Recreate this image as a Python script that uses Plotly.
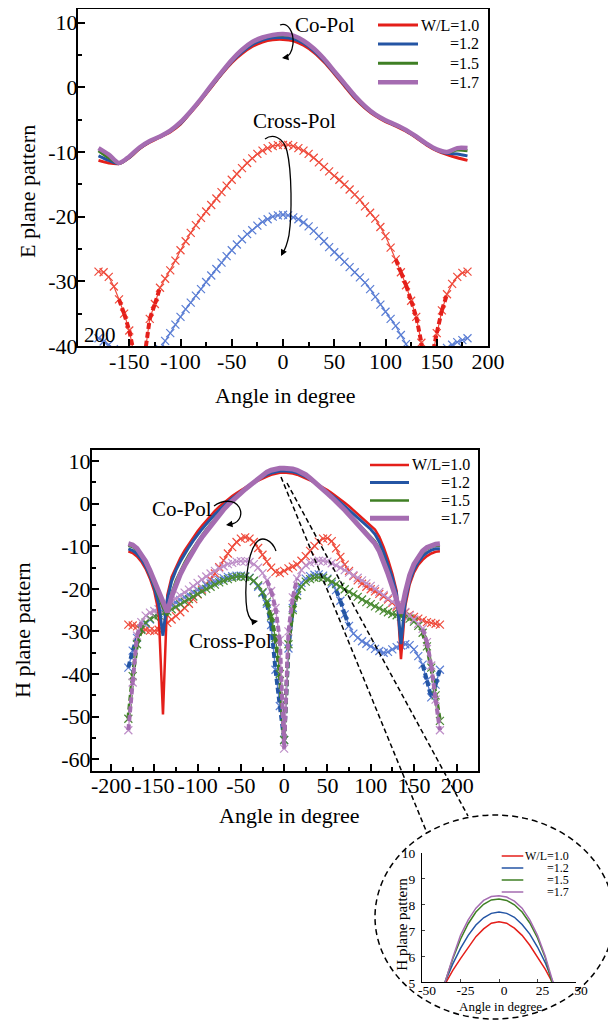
import plotly.graph_objects as go

# The page body has an 8px default margin, so the figure is drawn 8px in from
# the top-left corner of the 616x1021 window.
OFF = 8
FIG_W, FIG_H = 616 - OFF, 1021 - OFF
FONT = "Liberation Serif"

# ---------------- data ----------------
ANG10 = list(range(-180, 181, 10))
ANG5 = list(range(-180, 181, 5))
LABELS = ["W/L=1.0", "=1.2", "=1.5", "=1.7"]

# E plane co-pol (10 deg step)
E_CO_10 = [-11.3, -11.7, -11.8, -10.9, -9.5, -8.5, -7.7, -6.9, -5.7,
           -3.9, -2.0, 0.0, 2.0, 3.8, 5.2, 6.3, 7.0, 7.35, 7.4,
           7.2, 6.5, 5.4, 3.9, 2.1, 0.2, -1.7, -3.2, -4.4,
           -5.3, -6.0, -6.8, -7.8, -8.9, -9.8, -10.4, -10.9, -11.3]
E_CO_12 = [-10.6, -11.3, -11.8, -10.85, -9.45, -8.4, -7.65, -6.8, -5.6,
           -3.8, -1.9, 0.1, 2.1, 3.95, 5.45, 6.6, 7.3, 7.65, 7.7,
           7.5, 6.8, 5.65, 4.1, 2.25, 0.35, -1.55, -3.1, -4.3,
           -5.2, -5.9, -6.7, -7.7, -8.8, -9.7, -10.2, -10.3, -10.6]
E_CO_15 = [-9.8, -10.9, -11.75, -10.8, -9.4, -8.35, -7.6, -6.75, -5.5,
           -3.75, -1.85, 0.2, 2.2, 4.1, 5.7, 6.9, 7.6, 8.0, 8.1,
           7.9, 7.1, 5.9, 4.3, 2.4, 0.5, -1.4, -3.0, -4.25,
           -5.15, -5.85, -6.65, -7.65, -8.75, -9.65, -10.1, -9.7, -9.8]
E_CO_17 = [-9.4, -10.4, -11.7, -10.7, -9.3, -8.3, -7.6, -6.7, -5.4,
           -3.7, -1.8, 0.3, 2.3, 4.2, 5.8, 7.0, 7.7, 8.1, 8.25,
           8.0, 7.2, 6.0, 4.4, 2.5, 0.6, -1.3, -2.9, -4.2,
           -5.1, -5.8, -6.6, -7.6, -8.7, -9.6, -10.0, -9.4, -9.4]

# E plane cross-pol (5 deg step)
E_X_10 = [-28.5, -28.6, -29.3, -30.8, -32.8, -35.0, -37.6, -41.5, -50.0, -41.5,
          -35.8, -33.5, -31.0, -29.6, -28.3, -26.8, -25.2, -23.8, -22.5, -21.3,
          -20.2, -19.2, -18.2, -17.2, -16.2, -15.2, -14.3, -13.4, -12.5, -11.7,
          -11.0, -10.3, -9.8, -9.4, -9.1, -8.95, -8.9,
          -8.9, -9.1, -9.4, -9.8, -10.3, -10.9, -11.6, -12.3, -13.0, -13.7,
          -14.3, -15.0, -15.8, -16.6, -17.4, -18.4, -19.4, -20.3, -21.6, -23.0,
          -24.8, -26.6, -28.6, -30.6, -33.0, -35.5, -39.5, -50.0, -42.0, -38.0,
          -34.5, -32.0, -30.4, -29.3, -28.7, -28.5]
E_X_12 = [-38.8, -39.3, -39.8, -40.5, -42.0, -44.0, -47.0, -50.0, -52.0, -50.0,
          -46.0, -42.5, -40.5, -39.2, -38.0, -36.7, -35.5, -34.3, -33.3, -32.2,
          -31.2, -30.1, -29.1, -28.1, -27.1, -26.1, -25.2, -24.3, -23.5, -22.7,
          -22.1, -21.4, -20.8, -20.4, -20.0, -19.8, -19.7,
          -19.8, -20.1, -20.4, -20.9, -21.5, -22.2, -23.0, -23.8, -24.7, -25.5,
          -26.2, -27.0, -27.8, -28.6, -29.4, -30.2, -31.2, -32.4, -33.6, -34.7,
          -35.8, -36.9, -38.3, -39.7, -41.5, -44.0, -47.0, -50.0, -48.0, -45.0,
          -42.0, -40.3, -39.8, -39.4, -39.1, -38.8]

# H plane co-pol (5 deg step)
H_CO_10 = [-11.2, -11.6, -12.4, -13.6, -15.3, -17.6, -20.6, -25.5, -49.5, -21.5,
           -17.2, -14.8, -12.8, -11.0, -9.4, -7.9, -6.5, -5.2, -4.0, -2.8,
           -1.7, -0.7, 0.2, 1.0, 1.8, 2.5, 3.2, 3.9, 4.4, 4.95,
           5.45, 5.9, 6.35, 6.75, 7.05, 7.27, 7.33, 7.27, 7.08, 6.8,
           6.42, 5.98, 5.5, 4.95, 4.4, 3.9, 3.2, 2.5, 1.8, 1.0,
           0.2, -0.6, -1.5, -2.4, -3.3, -4.2, -5.1, -6.1, -7.8, -10.2,
           -13.1, -16.4, -20.5, -36.5, -24.0, -19.0, -16.2, -14.4, -13.2, -12.3,
           -11.7, -11.3, -11.2]
H_CO_12 = [-10.6, -11.0, -11.8, -13.0, -14.7, -16.9, -19.7, -23.5, -31.0, -22.5,
           -18.2, -15.6, -13.6, -11.8, -10.2, -8.7, -7.3, -6.0, -4.8, -3.6,
           -2.5, -1.5, -0.5, 0.4, 1.2, 2.0, 2.8, 3.6, 4.3, 5.0,
           5.7, 6.3, 6.8, 7.2, 7.48, 7.65, 7.7, 7.65, 7.5, 7.22,
           6.85, 6.35, 5.75, 5.0, 4.3, 3.6, 2.8, 2.0, 1.2, 0.3,
           -0.6, -1.5, -2.4, -3.3, -4.2, -5.1, -6.0, -7.2, -9.0, -11.4,
           -14.2, -17.4, -21.3, -33.0, -22.8, -18.2, -15.5, -13.7, -12.4, -11.5,
           -10.9, -10.6, -10.6]
H_CO_15 = [-9.9, -10.2, -11.0, -12.3, -14.0, -16.3, -19.0, -21.8, -24.5, -26.3,
           -21.0, -18.0, -15.7, -13.8, -12.0, -10.4, -8.9, -7.4, -6.0, -4.7,
           -3.5, -2.3, -1.2, -0.2, 0.8, 1.7, 2.6, 3.4, 4.2, 5.0,
           5.9, 6.65, 7.25, 7.7, 8.0, 8.17, 8.2, 8.15, 7.98, 7.7,
           7.28, 6.7, 5.95, 5.0, 4.15, 3.3, 2.5, 1.6, 0.7, -0.3,
           -1.3, -2.3, -3.4, -4.5, -5.6, -6.7, -7.7, -8.8, -10.5, -12.9,
           -15.8, -18.9, -22.3, -26.5, -21.2, -17.3, -14.7, -12.9, -11.6, -10.7,
           -10.2, -9.9, -9.9]
H_CO_17 = [-9.4, -9.7, -10.5, -11.8, -13.5, -15.7, -18.3, -21.0, -23.6, -25.5,
           -21.8, -19.0, -16.6, -14.6, -12.7, -11.0, -9.4, -7.9, -6.5, -5.1,
           -3.8, -2.6, -1.4, -0.3, 0.7, 1.6, 2.5, 3.4, 4.2, 5.0,
           5.95, 6.8, 7.4, 7.85, 8.15, 8.3, 8.33, 8.28, 8.12, 7.85,
           7.4, 6.8, 6.0, 5.0, 4.1, 3.3, 2.4, 1.5, 0.6, -0.4,
           -1.5, -2.6, -3.8, -5.0, -6.2, -7.3, -8.3, -9.4, -11.2, -13.6,
           -16.5, -19.5, -22.6, -25.8, -20.8, -16.8, -14.2, -12.4, -11.1, -10.3,
           -9.8, -9.5, -9.4]

# H plane cross-pol (5 deg step)
H_X_10 = [-28.4, -28.6, -28.8, -29.3, -29.6, -29.8, -29.9, -29.6, -28.8, -28.0,
          -27.2, -26.4, -25.5, -24.5, -23.5, -22.4, -21.3, -20.2, -19.0, -17.8,
          -16.4, -14.9, -13.3, -11.7, -10.2, -9.0, -8.2, -7.9, -8.2, -9.0,
          -10.4, -12.0, -13.6, -15.0, -16.0, -16.3, -15.8, -15.2, -14.8, -14.3,
          -13.4, -12.3, -11.1, -9.9, -8.9, -8.2, -8.1, -8.8, -10.5, -12.5,
          -14.3, -15.8, -17.0, -18.0, -18.8, -19.5, -20.1, -20.6, -21.2, -21.8,
          -22.5, -23.3, -24.2, -25.0, -25.6, -26.1, -26.6, -27.0, -27.4, -27.8,
          -28.0, -28.2, -28.4]
H_X_12 = [-38.5, -34.5, -31.5, -29.5, -28.2, -27.2, -26.4, -25.7, -25.0, -24.4,
          -23.8, -23.2, -22.6, -22.0, -21.4, -20.8, -20.2, -19.7, -19.2, -18.7,
          -18.3, -17.9, -17.5, -17.2, -17.0, -16.9, -16.9, -17.0, -17.4, -18.2,
          -19.5, -21.0, -23.5, -28.5, -39.0, -47.5, -55.5, -34.0, -24.5, -20.5,
          -18.6, -17.6, -17.0, -16.7, -16.6, -16.9, -17.6, -18.8, -20.3, -22.8,
          -26.0, -28.7, -30.5, -31.5, -32.3, -32.9, -33.5, -34.1, -34.6, -35.0,
          -34.8, -34.2, -33.7, -33.3, -33.0, -33.2, -34.2, -35.8, -37.8, -41.5,
          -45.5, -42.5, -39.0]
H_X_15 = [-50.5, -40.5, -33.0, -29.6, -27.9, -27.0, -26.5, -26.2, -25.8, -25.3,
          -24.8, -24.2, -23.6, -23.0, -22.4, -21.8, -21.2, -20.6, -20.0, -19.5,
          -19.0, -18.5, -18.1, -17.7, -17.4, -17.2, -17.1, -17.2, -17.5, -18.1,
          -19.2, -20.8, -23.0, -26.5, -31.5, -40.0, -55.5, -33.0, -25.0, -21.5,
          -19.5, -18.3, -17.7, -17.4, -17.3, -17.4, -17.8, -18.3, -18.9, -19.5,
          -20.1, -20.7, -21.3, -21.9, -22.5, -23.1, -23.6, -24.1, -24.6, -25.1,
          -25.5, -25.9, -26.2, -26.5, -26.6, -27.0, -27.7, -28.7, -30.3, -33.5,
          -38.5, -45.0, -51.0]
H_X_17 = [-53.2, -42.0, -31.0, -27.8, -26.3, -25.6, -25.2, -24.8, -24.3, -23.7,
          -23.0, -22.3, -21.6, -20.9, -20.2, -19.4, -18.6, -17.8, -17.1, -16.4,
          -15.8, -15.2, -14.7, -14.2, -13.9, -13.6, -13.5, -13.5, -13.7, -14.2,
          -15.0, -16.3, -18.0, -20.5, -24.5, -32.0, -57.5, -30.0, -22.0, -17.6,
          -15.6, -14.5, -13.9, -13.6, -13.4, -13.4, -13.6, -14.0, -14.5, -15.0,
          -15.6, -16.2, -16.8, -17.4, -18.0, -18.7, -19.3, -20.0, -20.7, -21.4,
          -22.2, -23.0, -23.8, -24.6, -25.4, -26.3, -27.2, -28.2, -29.4, -32.5,
          -38.0, -46.0, -53.2]

# ticks
E_XTICKS = [-150, -100, -50, 0, 50, 100, 150, 200]
E_YTICKS = [-40, -30, -20, -10, 0, 10]
H_XTICKS = [-200, -150, -100, -50, 0, 50, 100, 150, 200]
H_YTICKS = [-60, -50, -40, -30, -20, -10, 0, 10]
IN_XTICKS = [-50, -25, 0, 25, 50]
IN_YTICKS = [5, 6, 7, 8, 9, 10]

# ---------------- styles ----------------
CO_COLORS = ["#E41F1A", "#2455A4", "#3F7F24", "#A56CB1"]
X_COLORS = ["#EF4B3C", "#5B7ED4", "#4A8A32", "#BE8FC8"]
E_WIDTHS = [3, 3, 3, 4.5]
H_WIDTHS = [2.5, 3, 2.5, 5]


def X(p):
    return (p - OFF) / FIG_W


def Y(p):
    return 1 - (p - OFF) / FIG_H


def steep(xs, ys, thr):
    """Segments of a series whose slope is steep (drawn heavier, as in the original)."""
    ox, oy = [], []
    for i in range(len(xs) - 1):
        if abs(ys[i + 1] - ys[i]) >= thr:
            ox += [xs[i], xs[i + 1], None]
            oy += [ys[i], ys[i + 1], None]
    return ox, oy


fig = go.Figure()


def cross_trace(ys, c, dark, xa, ya, thr, lw):
    fig.add_trace(go.Scatter(x=ANG5, y=ys, mode="lines+markers", xaxis=xa, yaxis=ya,
                             line=dict(color=c, width=lw),
                             marker=dict(symbol="x-thin", size=8, line=dict(color=c, width=1.2)),
                             showlegend=False, hoverinfo="skip"))
    sx, sy = steep(ANG5, ys, thr)
    if sx:
        fig.add_trace(go.Scatter(x=sx, y=sy, mode="lines", xaxis=xa, yaxis=ya,
                                 line=dict(color=dark, width=4, dash="6px,3px"),
                                 connectgaps=False, showlegend=False, hoverinfo="skip"))


# E plane
for ys, c, w in zip([E_CO_10, E_CO_12, E_CO_15, E_CO_17], CO_COLORS, E_WIDTHS):
    fig.add_trace(go.Scatter(x=ANG10, y=ys, mode="lines", xaxis="x", yaxis="y",
                             line=dict(color=c, width=w, shape="spline", smoothing=0.8),
                             showlegend=False, hoverinfo="skip"))
for ys, c, d in zip([E_X_10, E_X_12], X_COLORS[:2], CO_COLORS[:2]):
    cross_trace(ys, c, d, "x", "y", 2.0, 1.2)

# H plane: cross first then co
for ys, c, d in zip([H_X_10, H_X_12, H_X_15, H_X_17], X_COLORS, CO_COLORS):
    cross_trace(ys, c, d, "x2", "y2", 2.5, 1.4)
for ys, c, w in zip([H_CO_10, H_CO_12, H_CO_15, H_CO_17], CO_COLORS, H_WIDTHS):
    fig.add_trace(go.Scatter(x=ANG5, y=ys, mode="lines", xaxis="x2", yaxis="y2",
                             line=dict(color=c, width=w),
                             showlegend=False, hoverinfo="skip"))

# inset
for ys, c in zip([H_CO_10, H_CO_12, H_CO_15, H_CO_17], CO_COLORS):
    fig.add_trace(go.Scatter(x=ANG5, y=ys, mode="lines", xaxis="x3", yaxis="y3",
                             line=dict(color=c, width=1.5),
                             showlegend=False, hoverinfo="skip"))

tickfont = dict(family=FONT, size=22, color="black")


def box_axis(domain, rng, tickvals, minorvals, standoff, **kw):
    return dict(domain=domain, range=rng, tickmode="array", tickvals=tickvals,
                ticktext=[str(v) for v in tickvals], ticks="inside", ticklen=7,
                tickwidth=1.5, tickcolor="black", showline=True, linewidth=2,
                linecolor="black", mirror=True, showgrid=False, zeroline=False,
                tickfont=tickfont, automargin=False, ticklabelstandoff=standoff,
                minor=dict(tickmode="array", tickvals=minorvals, ticks="inside",
                           ticklen=4, tickwidth=1.5, tickcolor="black"), **kw)


def inset_axis(domain, rng, tickvals, standoff, anchor, shift=0):
    return dict(domain=domain, range=rng, tickmode="array", tickvals=tickvals,
                ticktext=[str(v) for v in tickvals],
                ticks="inside", ticklen=3, showline=True, linewidth=1, linecolor="black",
                mirror=False, showgrid=False, zeroline=False, anchor=anchor,
                ticklabelstandoff=standoff, ticklabelshift=shift,
                tickfont=dict(family=FONT, size=13.5, color="black"), automargin=False)


layout = dict(
    width=FIG_W, height=FIG_H, margin=dict(l=0, r=0, t=0, b=0), autosize=False,
    paper_bgcolor="white", plot_bgcolor="white", showlegend=False,
    font=dict(family=FONT, color="black"),
    xaxis=box_axis([X(78), X(488)], [-200, 200], E_XTICKS,
                   [-175, -125, -75, -25, 25, 75, 125, 175], -5, anchor="y"),
    yaxis=box_axis([Y(346), Y(9.3)], [-40, 12.06], E_YTICKS,
                   [-35, -25, -15, -5, 5], -6, anchor="x"),
    xaxis2=box_axis([X(92), X(478)], [-222, 224], H_XTICKS,
                    [-225, -175, -125, -75, -25, 25, 75, 125, 175, 225], -6, anchor="y2"),
    yaxis2=box_axis([Y(770.7), Y(450)], [-62.7, 12.6], H_YTICKS,
                    [-55, -45, -35, -25, -15, -5, 5], -5, anchor="x2"),
    xaxis3=inset_axis([X(422), X(576)], [-50, 50], IN_XTICKS, -4, "y3", shift=5),
    yaxis3=inset_axis([Y(982), Y(852.5)], [5, 10], IN_YTICKS, 3, "x3", shift=1),
)
fig.update_layout(**layout)

shapes = []
annotations = []


def text(t, x, y, size, xanchor="center", angle=0):
    annotations.append(dict(text=t, x=X(x), y=Y(y), xref="paper", yref="paper",
                            showarrow=False, xanchor=xanchor, yanchor="middle",
                            textangle=angle, borderpad=0,
                            font=dict(family=FONT, size=size, color="black")))


def curve(points):
    parts = []
    for seg in points:
        cmd, pts = seg[0], seg[1:]
        parts.append(cmd + " " + " ".join(f"{X(a):.5f},{Y(b):.5f}" for a, b in pts))
    shapes.append(dict(type="path", path=" ".join(parts), xref="paper", yref="paper",
                       line=dict(color="black", width=1.3)))


def head(x, y, dx, dy):
    annotations.append(dict(text="", x=X(x), y=Y(y), xref="paper", yref="paper",
                            ax=dx, ay=dy, axref="pixel", ayref="pixel",
                            showarrow=True, arrowhead=2, arrowsize=1, arrowwidth=1.3,
                            arrowcolor="black", standoff=0))


def legend(xl0, xl1, rows, widths, x_text, size, anchor, first_x=None):
    for i, (lab, yv, c, w) in enumerate(zip(LABELS, rows, CO_COLORS, widths)):
        shapes.append(dict(type="line", x0=X(xl0), x1=X(xl1), y0=Y(yv), y1=Y(yv),
                           xref="paper", yref="paper", line=dict(color=c, width=w)))
        tx = x_text if (i > 0 or first_x is None) else first_x
        text(lab, tx, yv, size, xanchor=anchor)


# axis titles
text("E plane pattern", 27, 192, 22, angle=-90)
text("Angle in degree", 285, 395, 22)
text("H plane pattern", 22, 630, 22, angle=-90)
text("Angle in degree", 289, 815, 22)
text("H plane pattern", 401.7, 924, 15, angle=-90)
text("Angle in degree", 500, 1006, 13)
text("200", 83, 335, 21, xanchor="left")

# E annotations
text("Co-Pol", 325, 25, 21)
text("Cross-Pol", 294, 121, 21)
curve([("M", (280, 25)), ("C", (288, 22), (294, 32), (293, 44)),
       ("C", (292, 52), (289, 57), (284, 58))])
head(282, 58, 6, -1)
curve([("M", (265, 139)), ("C", (272, 134), (283, 136), (287, 151)),
       ("C", (292, 172), (292, 215), (289, 235)), ("C", (287, 245), (285, 250), (282, 254))])
head(281, 256, 3, -6)

# H annotations
text("Co-Pol", 182, 509, 21)
text("Cross-Pol", 230, 641, 21)
curve([("M", (214, 506)), ("C", (222, 500), (234, 499), (239, 507)),
       ("C", (243, 514), (240, 522), (232, 524)), ("L", (228, 525))])
head(226, 525, 6, -1)
curve([("M", (276, 551)), ("C", (272, 540), (262, 535), (256, 543)),
       ("C", (247, 555), (244, 590), (247, 610)), ("C", (249, 619), (252, 622), (256, 622))])
head(258, 621, -6, 1)

# zoom indicator
shapes.append(dict(type="line", x0=X(281), y0=Y(477), x1=X(427), y1=Y(833),
                   xref="paper", yref="paper", line=dict(color="black", width=1.5, dash="5px,3px")))
shapes.append(dict(type="line", x0=X(287), y0=Y(483), x1=X(468), y1=Y(816),
                   xref="paper", yref="paper", line=dict(color="black", width=1.5, dash="5px,3px")))
shapes.append(dict(type="circle", x0=X(375), x1=X(614), y0=Y(1019), y1=Y(815),
                   xref="paper", yref="paper", line=dict(color="black", width=1.5, dash="6px,4px")))

# legends
legend(378, 418, [25, 44, 63.3, 82.3], E_WIDTHS, 480, 16, "right")
legend(370, 409, [465, 482.5, 500.5, 518.3], H_WIDTHS, 470.5, 16, "right")
legend(501.7, 523.3, [856, 868, 880, 892], [1.5, 1.5, 1.5, 1.5], 545.5, 12,
       "left", first_x=524)

fig.update_layout(shapes=shapes, annotations=annotations)
fig.write_html("out.html")
